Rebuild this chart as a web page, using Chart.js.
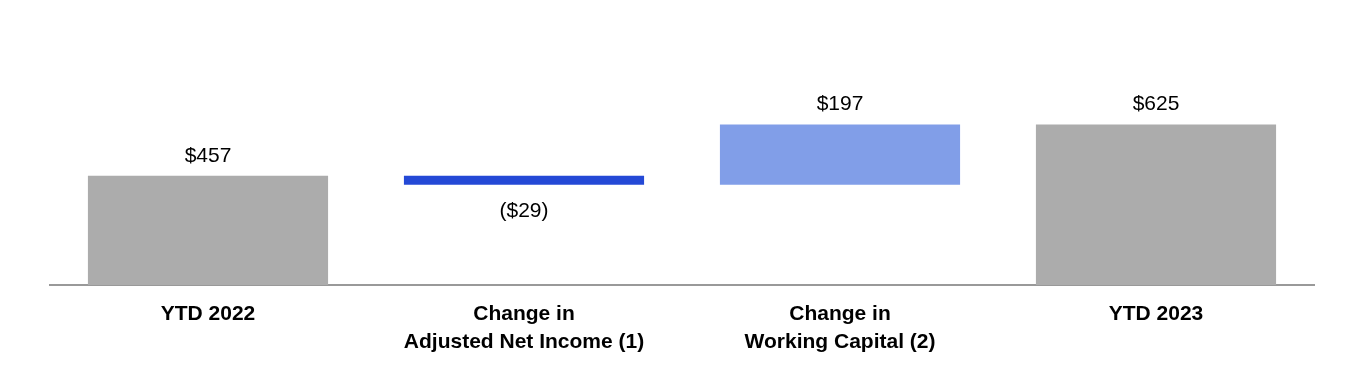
<!DOCTYPE html>
<html>
<head>
<meta charset="utf-8">
<script src="https://cdn.jsdelivr.net/npm/chart.js@4"></script>
<style>
    html, body { margin: 0; padding: 0; background: #fff; }
    #wrap { width: 1364px; height: 370px; }
</style>
</head>
<body>
<div id="wrap"><canvas id="bridgeChart" width="1364" height="370"></canvas></div>
<script>
// chart data
const categories = [
    ['YTD 2022'],
    ['Change in', 'Adjusted Net Income (1)'],
    ['Change in', 'Working Capital (2)'],
    ['YTD 2023']
];
const values = [457, -29, 197, 625];
const valueLabels = ['$457', '($29)', '$197', '$625'];
const isTotal = [true, false, false, true];

document.addEventListener('DOMContentLoaded', function() {
    // build floating ranges from the running total
    let running = 0;
    const ranges = values.map(function(v, i) {
        if (isTotal[i]) {
            running = v;
            return [0, v];
        }
        const start = running;
        running += v;
        return [start, running];
    });

    const colors = values.map(function(v, i) {
        if (isTotal[i]) return '#acacac';
        return v < 0 ? '#2449d6' : '#819ee8';
    });

    const valueLabelPlugin = {
        id: 'valueLabels',
        afterDatasetsDraw(chart) {
            const ctx = chart.ctx;
            const meta = chart.getDatasetMeta(0);
            ctx.save();
            ctx.font = '21px "Liberation Sans", Arial, sans-serif';
            ctx.fillStyle = '#000';
            ctx.textAlign = 'center';
            ctx.textBaseline = 'middle';
            meta.data.forEach(function(bar, i) {
                const top = Math.min(bar.y, bar.base);
                const bottom = Math.max(bar.y, bar.base);
                if (values[i] < 0) {
                    ctx.fillText(valueLabels[i], bar.x, bottom + 26);
                } else {
                    ctx.fillText(valueLabels[i], bar.x, top - 20);
                }
            });
            ctx.restore();
        }
    };

    const ctx = document.getElementById('bridgeChart').getContext('2d');
    new Chart(ctx, {
        type: 'bar',
        data: {
            labels: categories,
            datasets: [{
                data: ranges,
                backgroundColor: colors,
                borderWidth: 0,
                barPercentage: 0.76,
                categoryPercentage: 1
            }]
        },
        options: {
            responsive: false,
            animation: false,
            layout: {
                padding: { left: 50, right: 50, top: 71, bottom: 0 }
            },
            plugins: {
                legend: { display: false },
                tooltip: { enabled: false }
            },
            scales: {
                x: {
                    grid: { display: false, drawTicks: false },
                    border: { display: true, color: '#999999', width: 2 },
                    afterFit: function(scale) {
                        scale.height = 85;
                    },
                    ticks: {
                        color: '#000',
                        padding: 16,
                        maxRotation: 0,
                        autoSkip: false,
                        font: {
                            family: '"Liberation Sans", Arial, sans-serif',
                            size: 21,
                            weight: 'bold',
                            lineHeight: 1.3
                        }
                    }
                },
                y: {
                    display: false,
                    min: 100,
                    max: 800
                }
            }
        },
        plugins: [valueLabelPlugin]
    });
});
</script>
</body>
</html>
